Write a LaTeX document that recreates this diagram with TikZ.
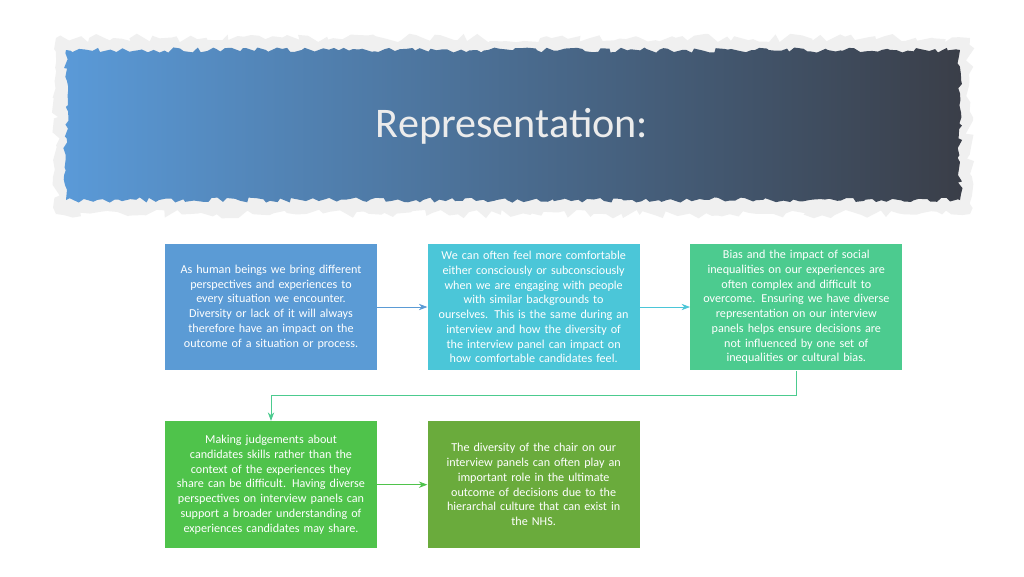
\documentclass[tikz,border=0pt]{standalone}
\usepackage{fontspec}
\setmainfont{Carlito}
\usetikzlibrary{positioning,arrows.meta,decorations.pathmorphing}
\definecolor{cblue}{HTML}{5B9BD5}
\definecolor{ccyan}{HTML}{4BC6D8}
\definecolor{cteal}{HTML}{4CCB8F}
\definecolor{cgreen}{HTML}{4FC34B}
\definecolor{colive}{HTML}{6AAB3C}
\definecolor{bannerL}{HTML}{5A9AD8}
\definecolor{bannerR}{HTML}{3A3E48}
\tikzstyle{card} = [rectangle, minimum width=4.24cm, minimum height=2.54cm,
                    text width=4.1cm, inner xsep=0.07cm, align=center, text=white,
                    font=\fontsize{6.9}{8.4}\selectfont]
\tikzstyle{arrow} = [->, >=Stealth, thin]

\begin{document}
\begin{tikzpicture}[x=0.02cm, y=-0.02cm]
	\useasboundingbox[fill=white] (0,0) rectangle (1024,576);

	% Title banner
	\fill[gray!12, decorate, decoration={random steps, segment length=4pt, amplitude=2.5pt}]
		(56,38) rectangle (970,214);
	\shade[left color=bannerL, right color=bannerR,
		decorate, decoration={random steps, segment length=3pt, amplitude=1.5pt}]
		(66,50) rectangle (960,200);
	\node[text=white!85!gray, font=\fontsize{24}{28}\selectfont] (title) at (512,126) {Representation:};

	% Cards
	\node[card, fill=cblue] (diverse) at (271,307) {As human beings we bring different\\perspectives and experiences to\\every situation we encounter.\\Diversity or lack of it will always\\therefore have an impact on the\\outcome of a situation or process.};
	\node[card, fill=ccyan, right=1cm of diverse] (comfort) {We can often feel more comfortable\\either consciously or subconsciously\\when we are engaging with people\\with similar backgrounds to\\ourselves. This is the same during an\\interview and how the diversity of\\the interview panel can impact on\\how comfortable candidates feel.};
	\node[card, fill=cteal, right=1cm of comfort] (bias) {Bias and the impact of social\\inequalities on our experiences are\\often complex and difficult to\\overcome. Ensuring we have diverse\\representation on our interview\\panels helps ensure decisions are\\not influenced by one set of\\inequalities or cultural bias.};
	\node[card, fill=cgreen, below=1cm of diverse] (skills) {Making judgements about\\candidates skills rather than the\\context of the experiences they\\share can be difficult. Having diverse\\perspectives on interview panels can\\support a broader understanding of\\experiences candidates may share.};
	\node[card, fill=colive, right=1cm of skills] (chair) {The diversity of the chair on our\\interview panels can often play an\\important role in the ultimate\\outcome of decisions due to the\\hierarchal culture that can exist in\\the NHS.};

	% Arrows
	\draw[arrow, cblue] (diverse) -- (comfort);
	\draw[arrow, ccyan] (comfort) -- (bias);
	\draw[arrow, cteal] (bias.south) -- ++(0,25) -| (skills.north);
	\draw[arrow, cgreen] (skills) -- (chair);
\end{tikzpicture}
\end{document}
